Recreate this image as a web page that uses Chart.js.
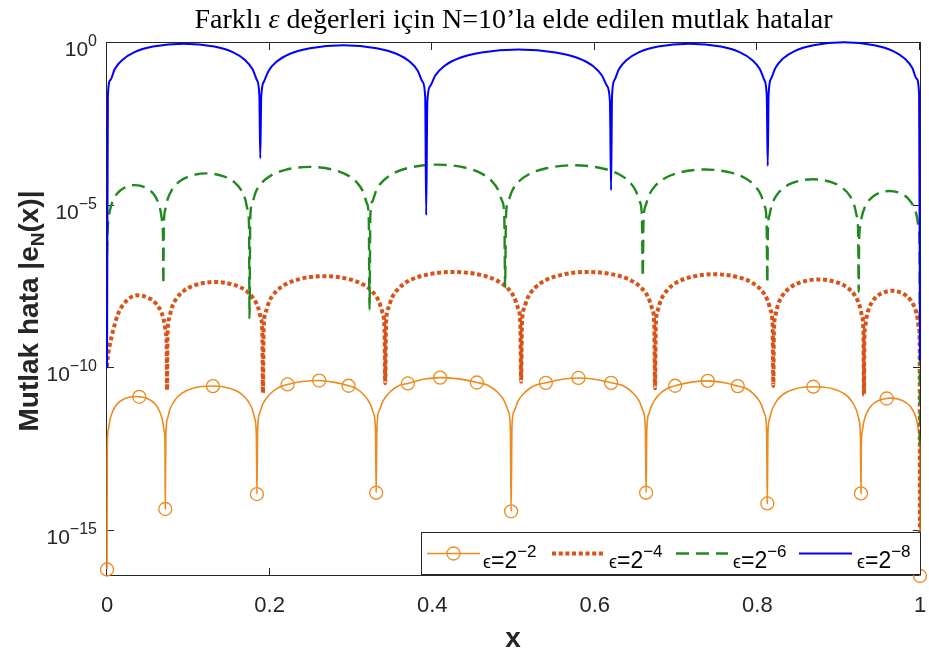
<!DOCTYPE html>
<html>
<head>
<meta charset="utf-8">
<script src="https://cdn.jsdelivr.net/npm/chart.js@4.4.1/dist/chart.umd.min.js"></script>
<style>
html, body { margin: 0; padding: 0; background: #fff; overflow: hidden; }
canvas { display: block; }
</style>
</head>
<body>
<canvas id="chart" width="929" height="654"></canvas>
<script>
// text
const titleParts = ['Farklı ', 'ε', ' değerleri için N=10’la elde edilen mutlak hatalar']
const xLabel = 'x'
const yLabelParts = ['Mutlak hata |e', 'N', '(x)|']
const xTicks = [0, 0.2, 0.4, 0.6, 0.8, 1]
const xTickLabels = ['0', '0.2', '0.4', '0.6', '0.8', '1']
const yTicks = [1e-15, 1e-10, 1e-5, 1]
const yTickExp = ['−15', '−10', '−5', '0']
const epsExp = ['−2', '−4', '−6', '−8']

// absolute error |e_N(x)|, as [x, error]
const orange = [
  [0, 6.46e-17],
  [0.0004, 4.27e-13], [0.0016, 1.29e-12], [0.0036, 2.57e-12], [0.0072, 4.79e-12], [0.0122, 7.76e-12],
  [0.0215, 1.15e-11], [0.0359, 1.35e-11], [0.0397, 1.32e-11], [0.0502, 1.15e-11], [0.0595, 7.76e-12],
  [0.0645, 4.79e-12], [0.0681, 2.57e-12], [0.0701, 1.29e-12], [0.0713, 4.27e-13],
  [0.0717, 4.68e-15],
  [0.0724, 8.91e-13], [0.0742, 2.69e-12], [0.0773, 5.37e-12], [0.0830, 1.0e-11], [0.0909, 1.62e-11],
  [0.1055, 2.40e-11], [0.1303, 2.82e-11], [0.1506, 2.40e-11], [0.1652, 1.62e-11], [0.1731, 1.0e-11],
  [0.1788, 5.37e-12], [0.1819, 2.69e-12], [0.1837, 8.91e-13],
  [0.1844, 1.35e-14],
  [0.1853, 1.32e-12], [0.1876, 3.98e-12], [0.1917, 7.94e-12], [0.1991, 1.48e-11], [0.2093, 2.40e-11],
  [0.2221, 3.16e-11], [0.2401, 3.89e-11], [0.2610, 4.17e-11], [0.2783, 3.72e-11], [0.2971, 2.88e-11],
  [0.3062, 2.40e-11], [0.3164, 1.48e-11], [0.3238, 7.94e-12], [0.3279, 3.98e-12], [0.3302, 1.32e-12],
  [0.3311, 1.48e-14],
  [0.3321, 1.62e-12], [0.3348, 4.90e-12], [0.3394, 9.77e-12], [0.3477, 1.82e-11], [0.3593, 2.95e-11],
  [0.3701, 3.39e-11], [0.3890, 4.57e-11], [0.4098, 5.13e-11], [0.4320, 4.68e-11], [0.4549, 3.63e-11],
  [0.4689, 2.95e-11], [0.4805, 1.82e-11], [0.4888, 9.77e-12], [0.4934, 4.90e-12], [0.4961, 1.62e-12],
  [0.4971, 3.98e-15],
  [0.4981, 1.58e-12], [0.5008, 4.79e-12], [0.5054, 9.55e-12], [0.5137, 1.78e-11], [0.5253, 2.88e-11],
  [0.5398, 3.55e-11], [0.5600, 4.57e-11], [0.5799, 5.01e-11], [0.6000, 4.57e-11], [0.6201, 3.55e-11],
  [0.6349, 2.88e-11], [0.6465, 1.78e-11], [0.6548, 9.55e-12], [0.6594, 4.79e-12], [0.6621, 1.58e-12],
  [0.6631, 1.48e-14],
  [0.6640, 1.29e-12], [0.6664, 3.89e-12], [0.6706, 7.76e-12], [0.6780, 1.45e-11], [0.6884, 2.34e-11],
  [0.6988, 2.88e-11], [0.7190, 3.72e-11], [0.7390, 4.07e-11], [0.7580, 3.63e-11], [0.7758, 2.82e-11],
  [0.7869, 2.34e-11], [0.7973, 1.45e-11], [0.8047, 7.76e-12], [0.8089, 3.89e-12], [0.8113, 1.29e-12],
  [0.8122, 6.92e-15],
  [0.8129, 8.71e-13], [0.8147, 2.63e-12], [0.8180, 5.25e-12], [0.8237, 9.77e-12], [0.8318, 1.58e-11],
  [0.8468, 2.34e-11], [0.8688, 2.69e-11], [0.8928, 2.34e-11], [0.9078, 1.58e-11], [0.9159, 9.77e-12],
  [0.9216, 5.25e-12], [0.9249, 2.63e-12], [0.9267, 8.71e-13],
  [0.9274, 1.41e-14],
  [0.9278, 3.80e-13], [0.9290, 1.15e-12], [0.9310, 2.29e-12], [0.9347, 4.27e-12], [0.9397, 6.92e-12],
  [0.9492, 1.02e-11], [0.9590, 1.17e-11], [0.9637, 1.20e-11], [0.9782, 1.02e-11], [0.9877, 6.92e-12],
  [0.9927, 4.27e-12], [0.9964, 2.29e-12], [0.9984, 1.15e-12], [0.9996, 3.80e-13],
  [1, 4.07e-17]
]
// mesh nodes that carry a circle on the eps=2^-2 curve
const orangeMarkX = [0, 0.0397, 0.0717, 0.1303, 0.1844, 0.2221, 0.2610, 0.2971, 0.3311, 0.3701, 0.4098, 0.4549,
  0.4971, 0.5398, 0.5799, 0.6201, 0.6631, 0.6988, 0.7390, 0.7758, 0.8122, 0.8688, 0.9274, 0.9590, 1]

const red = [
  [0, 1.1e-10],
  [0.0004, 1.58e-10], [0.0016, 2.82e-10], [0.0037, 5.62e-10], [0.0074, 1.41e-9], [0.0133, 4.47e-9],
  [0.0221, 1.05e-8], [0.0369, 1.74e-8], [0.0517, 1.41e-8], [0.0605, 9.55e-9], [0.0664, 5.50e-9],
  [0.0701, 2.82e-9], [0.0722, 1.32e-9], [0.0734, 4.37e-10],
  [0.0738, 2.09e-11],
  [0.0745, 1.12e-9], [0.0764, 3.39e-9], [0.0797, 7.24e-9], [0.0856, 1.41e-8], [0.0950, 2.45e-8],
  [0.1092, 3.63e-8], [0.1328, 4.47e-8], [0.1564, 3.63e-8], [0.1706, 2.45e-8], [0.1800, 1.41e-8],
  [0.1859, 7.24e-9], [0.1892, 3.39e-9], [0.1911, 1.12e-9],
  [0.1918, 1.74e-11],
  [0.1927, 1.70e-9], [0.1951, 5.13e-9], [0.1993, 1.10e-8], [0.2068, 2.14e-8], [0.2189, 3.72e-8],
  [0.2369, 5.50e-8], [0.2670, 6.76e-8], [0.2971, 5.50e-8], [0.3151, 3.72e-8], [0.3272, 2.14e-8],
  [0.3347, 1.10e-8], [0.3389, 5.13e-9], [0.3413, 1.70e-9],
  [0.3422, 3.47e-11],
  [0.3432, 2.29e-9], [0.3459, 6.92e-9], [0.3506, 1.48e-8], [0.3589, 2.88e-8], [0.3723, 5.01e-8],
  [0.3924, 7.41e-8], [0.4258, 9.12e-8], [0.4592, 7.41e-8], [0.4793, 5.01e-8], [0.4927, 2.88e-8],
  [0.5010, 1.48e-8], [0.5057, 6.92e-9], [0.5084, 2.29e-9],
  [0.5094, 3.8e-11],
  [0.5104, 2.29e-9], [0.5130, 6.92e-9], [0.5176, 1.48e-8], [0.5259, 2.88e-8], [0.5390, 5.01e-8],
  [0.5588, 7.41e-8], [0.5918, 9.12e-8], [0.6247, 7.41e-8], [0.6445, 5.01e-8], [0.6576, 2.88e-8],
  [0.6659, 1.48e-8], [0.6705, 6.92e-9], [0.6731, 2.29e-9],
  [0.6741, 2.4e-11],
  [0.6750, 1.95e-9], [0.6773, 5.89e-9], [0.6814, 1.26e-8], [0.6887, 2.45e-8], [0.7003, 4.27e-8],
  [0.7178, 6.31e-8], [0.7469, 7.76e-8], [0.7760, 6.31e-8], [0.7934, 4.27e-8], [0.8051, 2.45e-8],
  [0.8123, 1.26e-8], [0.8164, 5.89e-9], [0.8187, 1.95e-9],
  [0.8196, 2.82e-11],
  [0.8203, 1.35e-9], [0.8221, 4.07e-9], [0.8252, 8.71e-9], [0.8308, 1.70e-8], [0.8397, 2.95e-8],
  [0.8531, 4.37e-8], [0.8754, 5.37e-8], [0.8977, 4.37e-8], [0.9110, 2.95e-8], [0.9200, 1.70e-8],
  [0.9255, 8.71e-9], [0.9286, 4.07e-9], [0.9304, 1.35e-9],
  [0.9311, 1.48e-11],
  [0.9315, 6.03e-10], [0.9326, 1.82e-9], [0.9345, 3.89e-9], [0.9380, 7.59e-9], [0.9435, 1.32e-8],
  [0.9518, 1.95e-8], [0.9656, 2.40e-8], [0.9793, 1.95e-8], [0.9876, 1.32e-8], [0.9931, 7.59e-9],
  [0.9966, 3.89e-9], [0.9985, 1.82e-9], [0.9996, 6.03e-10],
  [1, 3e-17]
]

const green = [
  [0, 3.16e-7],
  [0.0004, 1.07e-6], [0.0015, 3.24e-6], [0.0035, 6.92e-6], [0.0069, 1.35e-5], [0.0125, 2.34e-5],
  [0.0208, 3.47e-5], [0.0347, 4.27e-5], [0.0485, 3.47e-5], [0.0568, 2.34e-5], [0.0624, 1.35e-5],
  [0.0658, 6.92e-6], [0.0678, 3.24e-6], [0.0689, 1.07e-6],
  [0.0693, 3.8e-8],
  [0.0699, 2.45e-6], [0.0716, 7.41e-6], [0.0746, 1.58e-5], [0.0799, 3.09e-5], [0.0884, 5.37e-5],
  [0.1011, 7.94e-5], [0.1223, 9.77e-5], [0.1435, 7.94e-5], [0.1562, 5.37e-5], [0.1647, 3.09e-5],
  [0.1700, 1.58e-5], [0.1730, 7.41e-6], [0.1747, 2.45e-6],
  [0.1753, 3.47e-9],
  [0.1762, 3.89e-6], [0.1785, 1.17e-5], [0.1827, 2.51e-5], [0.1901, 4.90e-5], [0.2019, 8.51e-5],
  [0.2196, 1.26e-4], [0.2491, 1.55e-4], [0.2786, 1.26e-4], [0.2963, 8.51e-5], [0.3081, 4.90e-5],
  [0.3155, 2.51e-5], [0.3197, 1.17e-5], [0.3220, 3.89e-6],
  [0.3229, 6.03e-9],
  [0.3239, 4.57e-6], [0.3266, 1.38e-5], [0.3312, 2.95e-5], [0.3396, 5.75e-5], [0.3529, 1.0e-4],
  [0.3729, 1.48e-4], [0.4063, 1.82e-4], [0.4397, 1.48e-4], [0.4597, 1.0e-4], [0.4730, 5.75e-5],
  [0.4814, 2.95e-5], [0.4860, 1.38e-5], [0.4887, 4.57e-6],
  [0.4897, 3.09e-8],
  [0.4907, 4.37e-6], [0.4934, 1.32e-5], [0.4982, 2.82e-5], [0.5066, 5.50e-5], [0.5202, 9.55e-5],
  [0.5405, 1.41e-4], [0.5744, 1.74e-4], [0.6082, 1.41e-4], [0.6285, 9.55e-5], [0.6421, 5.50e-5],
  [0.6505, 2.82e-5], [0.6553, 1.32e-5], [0.6580, 4.37e-6],
  [0.6590, 6.46e-8],
  [0.6599, 3.24e-6], [0.6624, 9.77e-6], [0.6667, 2.09e-5], [0.6743, 4.07e-5], [0.6866, 7.08e-5],
  [0.7050, 1.05e-4], [0.7356, 1.29e-4], [0.7662, 1.05e-4], [0.7846, 7.08e-5], [0.7969, 4.07e-5],
  [0.8045, 2.09e-5], [0.8088, 9.77e-6], [0.8113, 3.24e-6],
  [0.8122, 4.17e-8],
  [0.8129, 1.62e-6], [0.8147, 4.90e-6], [0.8178, 1.05e-5], [0.8234, 2.04e-5], [0.8324, 3.55e-5],
  [0.8459, 5.25e-5], [0.8684, 6.46e-5], [0.8909, 5.25e-5], [0.9044, 3.55e-5], [0.9134, 2.04e-5],
  [0.9190, 1.05e-5], [0.9221, 4.90e-6], [0.9239, 1.62e-6],
  [0.9246, 2.24e-8],
  [0.9251, 7.08e-7], [0.9263, 2.14e-6], [0.9284, 4.57e-6], [0.9321, 8.91e-6], [0.9382, 1.55e-5],
  [0.9472, 2.29e-5], [0.9623, 2.82e-5], [0.9774, 2.29e-5], [0.9864, 1.55e-5], [0.9925, 8.91e-6],
  [0.9962, 4.57e-6], [0.9983, 2.14e-6], [0.9995, 7.08e-7],
  [1, 3.16e-13]
]

const blue = [
  [0, 1e-10],
  [0.0011, 2.40e-2], [0.0041, 7.24e-2], [0.0094, 0.155], [0.0189, 0.302], [0.0339, 0.525],
  [0.0566, 0.776], [0.0943, 0.955], [0.1320, 0.776], [0.1546, 0.525], [0.1697, 0.302],
  [0.1791, 0.155], [0.1844, 7.24e-2], [0.1874, 2.40e-2],
  [0.1885, 2.88e-4],
  [0.1897, 2.14e-2], [0.1930, 6.46e-2], [0.1987, 0.138], [0.2089, 0.269], [0.2252, 0.468],
  [0.2497, 0.692], [0.2906, 0.851], [0.3314, 0.692], [0.3559, 0.468], [0.3722, 0.269],
  [0.3824, 0.138], [0.3881, 6.46e-2], [0.3914, 2.14e-2],
  [0.3926, 5.01e-6],
  [0.3940, 1.58e-2], [0.3976, 4.79e-2], [0.4040, 0.102], [0.4153, 0.2], [0.4335, 0.347],
  [0.4608, 0.513], [0.5063, 0.631], [0.5518, 0.513], [0.5791, 0.347], [0.5973, 0.2],
  [0.6086, 0.102], [0.6150, 4.79e-2], [0.6186, 1.58e-2],
  [0.6200, 2.95e-5],
  [0.6212, 2.40e-2], [0.6242, 7.24e-2], [0.6296, 0.155], [0.6393, 0.302], [0.6547, 0.525],
  [0.6778, 0.776], [0.7164, 0.955], [0.7549, 0.776], [0.7780, 0.525], [0.7934, 0.302],
  [0.8031, 0.155], [0.8085, 7.24e-2], [0.8115, 2.40e-2],
  [0.8127, 1.66e-4],
  [0.8138, 2.63e-2], [0.8168, 7.94e-2], [0.8221, 0.170], [0.8314, 0.331], [0.8464, 0.575],
  [0.8689, 0.851], [0.9064, 1.047], [0.9438, 0.851], [0.9663, 0.575], [0.9813, 0.331],
  [0.9906, 0.170], [0.9959, 7.94e-2], [0.9989, 2.63e-2],
  [1, 1.74e-10]
]

const ORANGE = '#EC8B1E'
const RED = '#D95319'
const GREEN = '#21891F'
const BLUE = '#0000FF'
const INK = '#262626'
const SANS = '"Liberation Sans", Arial, sans-serif'
const SERIF = '"Liberation Serif", "Times New Roman", serif'

const xy = (pts) => pts.map(([x, y]) => ({ x, y }))
const marks = new Set(orangeMarkX)

// draw text made of pieces [text, font, dy] from x on baseline y
function pieces(ctx, list, x, y) {
  list.forEach(([t, f, dy]) => {
    ctx.font = f
    ctx.fillText(t, x, y + dy)
    x += ctx.measureText(t).width
  })
}
function piecesWidth(ctx, list) {
  return list.reduce((w, [t, f]) => { ctx.font = f; return w + ctx.measureText(t).width }, 0)
}

// box, inward ticks, tick labels
const frame = {
  id: 'frame',
  beforeDatasetsDraw(chart) {
    const { ctx, chartArea: a, scales: { x, y } } = chart
    ctx.save()
    ctx.strokeStyle = INK
    ctx.lineWidth = 1
    ctx.strokeRect(a.left - 0.5, a.top - 0.5, a.right - a.left + 1, a.bottom - a.top + 1)
    ctx.beginPath()
    xTicks.forEach((v) => {
      const px = Math.round(x.getPixelForValue(v)) - 0.5
      ctx.moveTo(px, a.bottom); ctx.lineTo(px, a.bottom - 7)
      ctx.moveTo(px, a.top); ctx.lineTo(px, a.top + 7)
    })
    yTicks.forEach((v) => {
      const py = Math.round(y.getPixelForValue(v)) - 0.5
      ctx.moveTo(a.left, py); ctx.lineTo(a.left + 7, py)
      ctx.moveTo(a.right, py); ctx.lineTo(a.right - 7, py)
    })
    ctx.stroke()

    ctx.fillStyle = INK
    ctx.textAlign = 'center'
    ctx.textBaseline = 'alphabetic'
    ctx.font = '22px ' + SANS
    xTicks.forEach((v, i) => ctx.fillText(xTickLabels[i], x.getPixelForValue(v), 612))

    ctx.textAlign = 'right'
    yTicks.forEach((v, i) => {
      const py = y.getPixelForValue(v)
      ctx.font = '16px ' + SANS
      ctx.fillText(yTickExp[i], 97, py + 3)
      const ew = ctx.measureText(yTickExp[i]).width
      ctx.font = '21px ' + SANS
      ctx.fillText('10', 97 - ew, py + 13)
    })
    ctx.restore()
  }
}

// title, axis labels, legend
const decorations = {
  id: 'decorations',
  afterDraw(chart) {
    const { ctx } = chart
    ctx.save()
    ctx.textAlign = 'left'
    ctx.textBaseline = 'alphabetic'

    // title
    const mk = (s) => [
      [titleParts[0], s + 'px ' + SERIF, 0],
      [titleParts[1], 'italic ' + s + 'px ' + SERIF, 0],
      [titleParts[2], s + 'px ' + SERIF, 0]
    ]
    const size = 22 * 638 / piecesWidth(ctx, mk(22))
    const tp = mk(size)
    ctx.fillStyle = '#000'
    pieces(ctx, tp, 513.5 - piecesWidth(ctx, tp) / 2, 28)

    // x label
    ctx.fillStyle = INK
    ctx.font = 'bold 28px ' + SANS
    ctx.textAlign = 'center'
    ctx.fillText(xLabel, 513, 647)
    ctx.textAlign = 'left'

    // y label
    const yl = [
      [yLabelParts[0], 'bold 28px ' + SANS, 0],
      [yLabelParts[1], 'bold 19px ' + SANS, 6],
      [yLabelParts[2], 'bold 28px ' + SANS, 0]
    ]
    ctx.save()
    ctx.translate(38, 311)
    ctx.rotate(-Math.PI / 2)
    pieces(ctx, yl, -piecesWidth(ctx, yl) / 2, 0)
    ctx.restore()

    // legend
    const L = { left: 421, top: 532, right: 920, bottom: 574 }
    ctx.fillStyle = '#fff'
    ctx.fillRect(L.left, L.top, L.right - L.left, L.bottom - L.top)
    ctx.strokeStyle = INK
    ctx.lineWidth = 1
    ctx.strokeRect(L.left + 0.5, L.top + 0.5, L.right - L.left, L.bottom - L.top)
    const cy = 553.5
    const items = [
      { x0: 427, x1: 480, tx: 483, color: ORANGE, width: 1.6, dash: [], mark: true },
      { x0: 552, x1: 604, tx: 609, color: RED, width: 4, dash: [4, 2.7] },
      { x0: 676, x1: 728, tx: 733, color: GREEN, width: 2.4, dash: [13, 7] },
      { x0: 799, x1: 852, tx: 857, color: BLUE, width: 2, dash: [] }
    ]
    items.forEach((it, i) => {
      ctx.strokeStyle = it.color
      ctx.lineWidth = it.width
      ctx.setLineDash(it.dash)
      ctx.beginPath()
      ctx.moveTo(it.x0, cy); ctx.lineTo(it.x1, cy)
      ctx.stroke()
      ctx.setLineDash([])
      if (it.mark) {
        ctx.lineWidth = 1.3
        ctx.beginPath()
        ctx.arc((it.x0 + it.x1) / 2, cy, 6.5, 0, Math.PI * 2)
        ctx.stroke()
      }
      ctx.fillStyle = '#000'
      pieces(ctx, [
        ['ϵ', '18px ' + SANS, 0],
        ['=2', '23px ' + SANS, 0],
        [epsExp[i], '17px ' + SANS, -11]
      ], it.tx, 568)
    })
    ctx.restore()
  }
}

new Chart(document.getElementById('chart'), {
  type: 'line',
  data: {
    datasets: [{
      label: 'ϵ=2^-2',
      data: xy(orange),
      borderColor: ORANGE,
      borderWidth: 1.6,
      pointRadius: (c) => (marks.has(c.raw.x) ? 6.5 : 0),
      pointBorderColor: ORANGE,
      pointBackgroundColor: 'rgba(0,0,0,0)',
      pointBorderWidth: 1.3,
      clip: false,
      order: 4
    }, {
      label: 'ϵ=2^-4',
      data: xy(red),
      borderColor: RED,
      borderWidth: 4,
      borderDash: [4, 2.7],
      order: 3
    }, {
      label: 'ϵ=2^-6',
      data: xy(green),
      borderColor: GREEN,
      borderWidth: 2.4,
      borderDash: [13, 7],
      order: 2
    }, {
      label: 'ϵ=2^-8',
      data: xy(blue),
      borderColor: BLUE,
      borderWidth: 2,
      clip: false,
      order: 1
    }]
  },
  options: {
    responsive: false,
    animation: false,
    devicePixelRatio: 1,
    events: [],
    layout: { padding: { left: 107, top: 43, right: 9, bottom: 79 } },
    elements: {
      line: { cubicInterpolationMode: 'monotone', fill: false, borderCapStyle: 'butt' },
      point: { radius: 0, hoverRadius: 0 }
    },
    scales: {
      x: { type: 'linear', min: 0, max: 1, display: false },
      y: { type: 'logarithmic', min: 4.37e-17, max: 1, display: false }
    },
    plugins: { legend: { display: false }, tooltip: { enabled: false } }
  },
  plugins: [frame, decorations]
})
</script>
</body>
</html>
